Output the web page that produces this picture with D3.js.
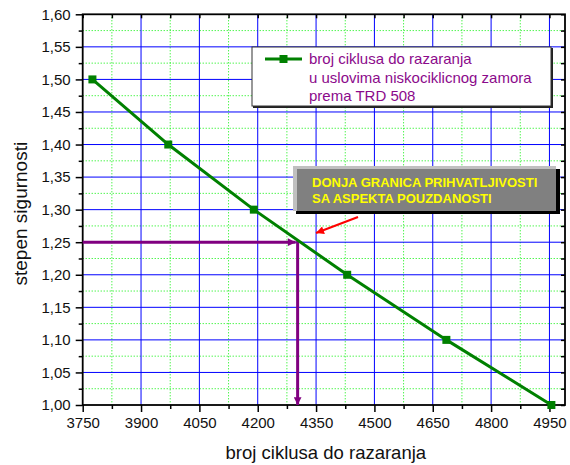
<!DOCTYPE html>
<html>
<head>
<meta charset="utf-8">
<script src="https://cdn.jsdelivr.net/npm/d3@7"></script>
<style>
  body { margin: 0; background: #fff; }
  svg { font-family: "Liberation Sans", Arial, sans-serif; }
</style>
</head>
<body>
<svg id="chart" width="570" height="465"></svg>
<script>
/********************* data *********************/
const cycles = [3775, 3970, 4190, 4430, 4685, 4955];
const safety = [1.50, 1.40, 1.30, 1.20, 1.10, 1.00];
const xTickValues = [3750, 3900, 4050, 4200, 4350, 4500, 4650, 4800, 4950];
const yTickValues = [1.00, 1.05, 1.10, 1.15, 1.20, 1.25, 1.30, 1.35, 1.40, 1.45, 1.50, 1.55, 1.60];
const limitCycles = 4300;
const limitSafety = 1.25;
const legendLines = ["broj ciklusa do razaranja", "u uslovima niskociklicnog zamora", "prema TRD 508"];
const noteLines = ["DONJA GRANICA PRIHVATLJIVOSTI", "SA ASPEKTA POUZDANOSTI"];

/********************* scales *********************/
const pLeft = 82.7, pRight = 565, pTop = 14.3, pBottom = 405;
const svg = d3.select("#chart");
const x = d3.scaleLinear().domain([3750, 4990]).range([pLeft, pRight]);
const y = d3.scaleLinear().domain([1.0, 1.6]).range([pBottom, pTop]);

// minor positions halfway between the major ticks
const xMinor = xTickValues.slice(0, -1).map((d, i) => (d + xTickValues[i + 1]) / 2);
const yMinor = yTickValues.slice(0, -1).map((d, i) => (d + yTickValues[i + 1]) / 2);

/********************* grid *********************/
const grid = svg.append("g").attr("class", "grid");
grid.selectAll("line.xm").data(xMinor).join("line")
  .attr("class", "xm")
  .attr("x1", d => x(d)).attr("x2", d => x(d)).attr("y1", pTop).attr("y2", pBottom)
  .attr("stroke", "#00f000").attr("stroke-dasharray", "1,2");
grid.selectAll("line.ym").data(yMinor).join("line")
  .attr("class", "ym")
  .attr("y1", d => y(d)).attr("y2", d => y(d)).attr("x1", pLeft).attr("x2", pRight)
  .attr("stroke", "#00f000").attr("stroke-dasharray", "1,2");
grid.selectAll("line.xM").data(xTickValues.slice(1)).join("line")
  .attr("class", "xM")
  .attr("x1", d => x(d)).attr("x2", d => x(d)).attr("y1", pTop).attr("y2", pBottom)
  .attr("stroke", "#0000ff");
grid.selectAll("line.yM").data(yTickValues.slice(1, -1)).join("line")
  .attr("class", "yM")
  .attr("y1", d => y(d)).attr("y2", d => y(d)).attr("x1", pLeft).attr("x2", pRight)
  .attr("stroke", "#0000ff");

/********************* axes *********************/
const fmt = d => d3.format(".2f")(d).replace(".", ",");
const axes = svg.append("g").attr("class", "axes");

axes.append("g").attr("transform", `translate(0,${pBottom})`)
  .call(d3.axisBottom(x).tickValues(xTickValues).tickFormat(d3.format("d")).tickSize(7).tickPadding(5).tickSizeOuter(0));
axes.append("g").attr("transform", `translate(${pLeft},0)`)
  .call(d3.axisLeft(y).tickValues(yTickValues).tickFormat(fmt).tickSize(7).tickPadding(5).tickSizeOuter(0));
// minor ticks
axes.append("g").attr("transform", `translate(0,${pBottom})`)
  .call(d3.axisBottom(x).tickValues(xMinor).tickSize(4).tickFormat("").tickSizeOuter(0));
axes.append("g").attr("transform", `translate(${pLeft},0)`)
  .call(d3.axisLeft(y).tickValues(yMinor).tickSize(4).tickFormat("").tickSizeOuter(0));
// top and right: inward ticks
axes.append("g").attr("transform", `translate(0,${pTop})`)
  .call(d3.axisTop(x).tickValues(xTickValues.concat(xMinor)).tickSize(-4).tickFormat("").tickSizeOuter(0));
axes.append("g").attr("transform", `translate(${pRight},0)`)
  .call(d3.axisRight(y).tickValues(yTickValues.concat(yMinor)).tickSize(-4).tickFormat("").tickSizeOuter(0));

axes.selectAll(".domain").remove();
axes.selectAll(".tick line").attr("stroke", "#000").attr("stroke-width", 1.5);
axes.selectAll(".tick text").attr("font-size", 15).attr("fill", "#111")
  .style("font-family", "'Liberation Sans', Arial, sans-serif");

axes.append("rect").attr("x", pLeft).attr("y", pTop)
  .attr("width", pRight - pLeft).attr("height", pBottom - pTop)
  .attr("fill", "none").attr("stroke", "#000").attr("stroke-width", 1.8);

// axis titles
svg.append("text").text("broj ciklusa do razaranja")
  .attr("x", (pLeft + pRight) / 2 + 2).attr("y", 459).attr("text-anchor", "middle")
  .attr("font-size", 18.5).attr("fill", "#111");
svg.append("text").text("stepen sigurnosti")
  .attr("transform", `translate(27,${(pTop + pBottom) / 2 + 4}) rotate(-90)`)
  .attr("text-anchor", "middle").attr("font-size", 19).attr("fill", "#111");

/********************* purple limit lines *********************/
const defs = svg.append("defs");
defs.append("marker").attr("id", "ap").attr("viewBox", "0 0 10 10")
  .attr("refX", 10).attr("refY", 5).attr("markerWidth", 3.2).attr("markerHeight", 2.6)
  .attr("orient", "auto").attr("markerUnits", "strokeWidth")
  .append("path").attr("d", "M0,0 L10,5 L0,10 z").attr("fill", "#800080");
defs.append("marker").attr("id", "ar").attr("viewBox", "0 0 10 10")
  .attr("refX", 10).attr("refY", 5).attr("markerWidth", 6).attr("markerHeight", 4)
  .attr("orient", "auto").attr("markerUnits", "strokeWidth")
  .append("path").attr("d", "M0,0 L10,5 L0,10 z").attr("fill", "#ff0000");

svg.append("line")
  .attr("x1", pLeft).attr("y1", y(limitSafety)).attr("x2", x(limitCycles) - 1).attr("y2", y(limitSafety))
  .attr("stroke", "#800080").attr("stroke-width", 3).attr("marker-end", "url(#ap)");
svg.append("line")
  .attr("x1", x(limitCycles) + 1).attr("y1", y(limitSafety) - 1.5).attr("x2", x(limitCycles) + 1).attr("y2", pBottom)
  .attr("stroke", "#800080").attr("stroke-width", 3).attr("marker-end", "url(#ap)");

/********************* series *********************/
const pts = cycles.map((c, i) => [c, safety[i]]);
svg.append("path").datum(pts)
  .attr("d", d3.line().x(d => x(d[0])).y(d => y(d[1])))
  .attr("fill", "none").attr("stroke", "#008000").attr("stroke-width", 3);
svg.selectAll("rect.pt").data(pts).join("rect").attr("class", "pt")
  .attr("x", d => x(d[0]) - 4).attr("y", d => y(d[1]) - 4)
  .attr("width", 8).attr("height", 8).attr("fill", "#008000");

/********************* legend *********************/
const lg = svg.append("g").attr("transform", "translate(252,47)");
lg.append("rect").attr("x", 1).attr("y", 1).attr("width", 300).attr("height", 60).attr("fill", "#222");
lg.append("rect").attr("width", 299).attr("height", 59).attr("fill", "#fff").attr("stroke", "#333").attr("stroke-width", 1);
lg.append("line").attr("x1", 13).attr("x2", 50).attr("y1", 12).attr("y2", 12)
  .attr("stroke", "#008000").attr("stroke-width", 3);
lg.append("rect").attr("x", 27.5).attr("y", 8).attr("width", 8).attr("height", 8).attr("fill", "#008000");
lg.selectAll("text").data(legendLines).join("text")
  .attr("x", 57).attr("y", (d, i) => 17 + i * 18.5).text(d => d)
  .attr("font-size", 15).attr("fill", "#8b0a8b");

/********************* annotation *********************/
const nb = svg.append("g").attr("transform", "translate(293,166)");
nb.append("path").attr("d", "M4,3 L267,3 L267,48 L3,48 z").attr("fill", "#000");
nb.append("path").attr("d", "M0,0 L263,0 L263,45 L0,45 z").attr("fill", "#c0c0c0");
nb.append("rect").attr("x", 4).attr("y", 3).attr("width", 259).attr("height", 42).attr("fill", "#808080");
nb.selectAll("text").data(noteLines).join("text")
  .attr("x", 19).attr("y", (d, i) => 21 + i * 15.5).text(d => d)
  .attr("font-size", 13).attr("font-weight", "bold").attr("fill", "#ffff00");

// red pointer
svg.append("line").attr("x1", 358).attr("y1", 217).attr("x2", 316).attr("y2", 233)
  .attr("stroke", "#ff0000").attr("stroke-width", 2).attr("marker-end", "url(#ar)");
</script>
</body>
</html>
